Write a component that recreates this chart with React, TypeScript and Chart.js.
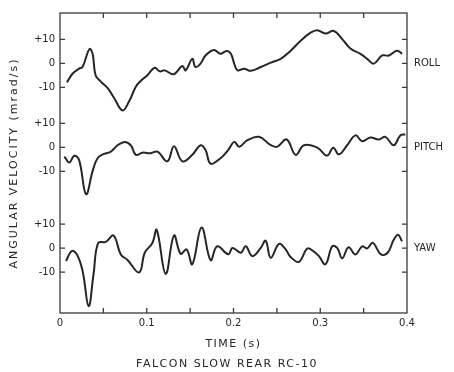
import React, { useEffect, useRef } from 'react';
import { Chart, registerables } from 'chart.js';

Chart.register(...registerables);

// ---- data (time in s, angular velocity in mrad/s) ----
const rollTime = [0.008, 0.0146, 0.022, 0.026, 0.034, 0.0376, 0.041, 0.047, 0.055, 0.0624, 0.072, 0.0797, 0.0874, 0.093, 0.1008, 0.109, 0.115, 0.1207, 0.131, 0.141, 0.1448, 0.1525, 0.156, 0.162, 0.1678, 0.1774, 0.185, 0.192, 0.197, 0.2008, 0.2046, 0.2123, 0.22, 0.2314, 0.243, 0.2544, 0.2659, 0.2774, 0.2889, 0.2966, 0.306, 0.3157, 0.3253, 0.3348, 0.3463, 0.354, 0.3617, 0.3713, 0.379, 0.3885, 0.3943];
const rollValue = [-7.9, -4.2, -2.2, -1.5, 6.0, 4.0, -4.9, -7.6, -10.3, -14.4, -19.6, -15.8, -9.7, -7.3, -4.9, -1.8, -3.3, -2.9, -4.5, -1.1, -2.9, 1.9, -1.5, -0.1, 3.3, 5.6, 4.0, 5.2, 4.0, -0.1, -2.9, -2.2, -3.1, -1.5, 0.3, 1.9, 5.3, 9.4, 12.8, 13.8, 12.5, 13.5, 10.1, 6.2, 4.0, 1.9, -0.1, 3.3, 3.3, 5.3, 4.0];

const pitchTime = [0.005, 0.0107, 0.0164, 0.022, 0.03, 0.0376, 0.0433, 0.0509, 0.0586, 0.0663, 0.0747, 0.0816, 0.0874, 0.095, 0.1046, 0.1123, 0.1238, 0.1314, 0.141, 0.1525, 0.162, 0.1678, 0.1736, 0.185, 0.194, 0.2008, 0.2066, 0.216, 0.2295, 0.243, 0.2506, 0.2613, 0.2716, 0.2812, 0.2966, 0.308, 0.315, 0.3215, 0.331, 0.3406, 0.3483, 0.3578, 0.3675, 0.375, 0.3847, 0.3923, 0.398];
const pitchValue = [-3.8, -6.3, -3.5, -5.2, -19.5, -9.9, -4.5, -2.7, -1.8, 0.9, 2.3, 0.9, -3.1, -2.2, -2.4, -1.8, -5.8, 0.5, -5.8, -3.1, 0.9, -1.1, -6.8, -4.5, -1.0, 2.3, 0.3, 3.0, 4.4, 0.9, 0.3, 3.3, -3.1, 0.9, -0.1, -3.4, -0.1, -2.9, 0.9, 5.0, 2.6, 4.1, 3.3, 4.4, 0.9, 5.0, 5.4];

const yawTime = [0.0069, 0.0134, 0.0195, 0.026, 0.033, 0.0387, 0.044, 0.0529, 0.0617, 0.0701, 0.0778, 0.0912, 0.0977, 0.1065, 0.1115, 0.1218, 0.1314, 0.139, 0.146, 0.1525, 0.1632, 0.1736, 0.1812, 0.194, 0.1989, 0.2084, 0.2141, 0.2218, 0.2314, 0.2371, 0.2429, 0.2525, 0.2601, 0.2659, 0.2755, 0.2851, 0.292, 0.2985, 0.306, 0.3138, 0.3195, 0.3253, 0.3326, 0.3406, 0.3483, 0.354, 0.3606, 0.37, 0.3777, 0.3847, 0.3897, 0.3943];
const yawValue = [-5.3, -1.2, -2.6, -9.4, -24.1, -10.7, 2.2, 2.6, 5.3, -2.6, -4.9, -10.1, -1.9, 2.2, 7.6, -10.7, 5.3, -2.3, -0.5, -6.7, 8.6, -5.0, 0.8, -2.5, 0.1, -1.9, 0.8, -3.3, 0.1, 3.1, -4.0, 1.8, -0.5, -3.7, -5.7, -0.1, -1.2, -3.3, -6.7, 0.8, 0.1, -4.2, 0.4, -2.6, 0.8, -0.1, 2.2, -2.6, -1.9, 3.5, 5.6, 2.9];

const panelNames = ['ROLL', 'PITCH', 'YAW'];
const xTickValues = [0, 0.1, 0.2, 0.3, 0.4];
const xTickLabels = ['0', '0.1', '0.2', '0.3', '0.4'];
const xMinorTickValues = [0.05, 0.1, 0.15, 0.2, 0.25, 0.3, 0.35];
const yTickValues = [10, 0, -10];
const yTickLabels = ['+10', '0', '-10'];

// ---- layout of the stacked panels on one shared vertical scale ----
const PANEL_BASE = [104, 69, 27];
const Y_MIN = 0;
const Y_MAX = 125;

const INK = '#262626';
const FONT = '"DejaVu Sans", sans-serif';

const series = [
  { t: rollTime, v: rollValue },
  { t: pitchTime, v: pitchValue },
  { t: yawTime, v: yawValue },
];

const letterSpacingById: Record<string, string> = { x: '1.5px', y: '2px' };

const spacingPlugin = {
  id: 'letterSpacingPatch',
  afterLayout(chart: any) {
    Object.values(chart.scales).forEach((s: any) => {
      if (!s.__lsPatched) {
        const orig = s.drawTitle;
        s.drawTitle = function (...args: any[]) {
          const ctx = this.ctx;
          ctx.save();
          ctx.letterSpacing = letterSpacingById[this.id] || '0px';
          orig.apply(this, args);
          ctx.restore();
        };
        s.__lsPatched = true;
      }
    });
    const tb = chart.titleBlock;
    if (tb && !tb.__lsPatched) {
      const origDraw = tb.draw;
      tb.draw = function (...args: any[]) {
        const ctx = this.ctx;
        ctx.save();
        ctx.letterSpacing = '1.5px';
        origDraw.apply(this, args);
        ctx.restore();
      };
      tb.__lsPatched = true;
    }
  },
};

const framePlugin = {
  id: 'frameAndTicks',
  afterDraw(chart: any) {
    const { ctx, chartArea } = chart;
    const { left, right, top, bottom } = chartArea;
    const x = chart.scales.x;
    const y = chart.scales.y;
    const len = 5;
    ctx.save();
    ctx.strokeStyle = '#3a3a3a';
    ctx.lineWidth = 1.3;
    ctx.strokeRect(left, top, right - left, bottom - top);
    ctx.beginPath();
    PANEL_BASE.forEach((b) => {
      yTickValues.forEach((v) => {
        const py = y.getPixelForValue(b + v);
        ctx.moveTo(left, py);
        ctx.lineTo(left + len, py);
        ctx.moveTo(right, py);
        ctx.lineTo(right - len, py);
      });
    });
    xMinorTickValues.forEach((t) => {
      const px = x.getPixelForValue(t);
      ctx.moveTo(px, bottom);
      ctx.lineTo(px, bottom - len);
      ctx.moveTo(px, top);
      ctx.lineTo(px, top + len);
    });
    ctx.stroke();
    ctx.restore();
  },
};

export default function App() {
  const canvasRef = useRef<HTMLCanvasElement | null>(null);

  useEffect(() => {
    const canvas = canvasRef.current;
    if (!canvas) return;

    const datasets = series.map((s, i) => ({
      label: panelNames[i],
      data: s.t.map((t, k) => ({ x: t, y: PANEL_BASE[i] + s.v[k] })),
      borderColor: INK,
      borderWidth: 2,
      pointRadius: 0,
      fill: false,
      tension: 0.4,
      yAxisID: 'y',
    }));

    const chart = new Chart(canvas, {
      type: 'line',
      data: { datasets },
      plugins: [spacingPlugin, framePlugin],
      options: {
        animation: false,
        responsive: false,
        maintainAspectRatio: false,
        layout: { padding: { top: 7, left: 0, right: 0, bottom: 0 } },
        plugins: {
          legend: { display: false },
          tooltip: { enabled: false },
          title: {
            display: true,
            position: 'bottom',
            text: 'FALCON SLOW REAR RC-10',
            color: INK,
            font: { family: FONT, size: 11, weight: 'normal', lineHeight: '12px' },
            padding: { top: 8, bottom: 2 },
          },
        },
        scales: {
          x: {
            type: 'linear',
            min: 0,
            max: 0.4,
            grid: { display: false, drawTicks: false },
            border: { display: false },
            afterBuildTicks: (s: any) => {
              s.ticks = xTickValues.map((v) => ({ value: v }));
            },
            afterFit: (s: any) => {
              s.height = 37;
            },
            ticks: {
              autoSkip: false,
              maxRotation: 0,
              padding: 4,
              color: INK,
              font: { family: FONT, size: 10 },
              callback: (_v: any, i: number) => xTickLabels[i],
            },
            title: {
              display: true,
              text: 'TIME (s)',
              color: INK,
              font: { family: FONT, size: 11, lineHeight: '12px' },
              padding: { top: 0, bottom: 0 },
            },
          },
          y: {
            type: 'linear',
            position: 'left',
            min: Y_MIN,
            max: Y_MAX,
            grid: { display: false, drawTicks: false },
            border: { display: false },
            afterBuildTicks: (s: any) => {
              s.ticks = PANEL_BASE.flatMap((b) => yTickValues.map((v) => ({ value: b + v })));
            },
            afterFit: (s: any) => {
              s.width = 60;
            },
            ticks: {
              autoSkip: false,
              padding: 5,
              color: INK,
              font: { family: FONT, size: 10 },
              callback: (_v: any, i: number) => yTickLabels[i % yTickLabels.length],
            },
            title: {
              display: true,
              text: 'ANGULAR VELOCITY (mrad/s)',
              color: INK,
              font: { family: FONT, size: 11, lineHeight: '12px' },
              padding: { top: 8, bottom: 0 },
            },
          },
          y2: {
            type: 'linear',
            position: 'right',
            min: Y_MIN,
            max: Y_MAX,
            grid: { display: false, drawTicks: false },
            border: { display: false },
            afterBuildTicks: (s: any) => {
              s.ticks = PANEL_BASE.map((b) => ({ value: b }));
            },
            afterFit: (s: any) => {
              s.width = 47;
            },
            ticks: {
              autoSkip: false,
              padding: 7,
              color: INK,
              font: { family: FONT, size: 10 },
              callback: (_v: any, i: number) => panelNames[i],
            },
          },
        },
      } as any,
    });

    return () => {
      chart.destroy();
    };
  }, []);

  return (
    <div style={{ position: 'fixed', left: 0, top: 0, width: 454, height: 372, background: '#fff' }}>
      <canvas ref={canvasRef} width={454} height={372} style={{ display: 'block', width: 454, height: 372 }} />
    </div>
  );
}
